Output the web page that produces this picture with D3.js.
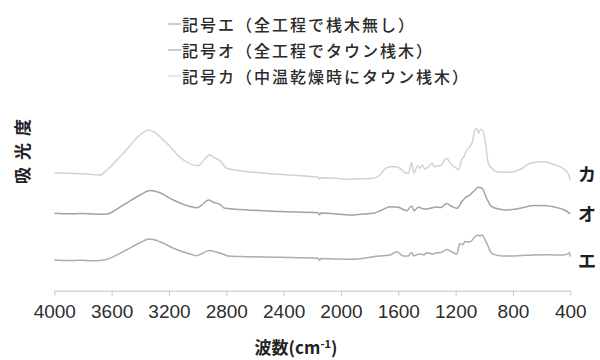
<!DOCTYPE html>
<html>
<head>
<meta charset="utf-8">
<script src="https://cdn.jsdelivr.net/npm/d3@7"></script>
<style>
  html, body { margin: 0; padding: 0; background: #fff; }
  svg { display: block; }
</style>
</head>
<body>
<svg id="chart" width="600" height="360"></svg>
<script>
// FT-IR spectra, stacked with a vertical offset (absorbance, arbitrary units)
const seriesNames = ["記号エ", "記号オ", "記号カ"];
const seriesNotes = ["（全工程で桟木無し）", "（全工程でタウン桟木）", "（中温乾燥時にタウン桟木）"];
const seriesTags = ["エ", "オ", "カ"];
const seriesColors = ["#adadad", "#a3a3a3", "#d2d2d2"];
const legendColors = ["#bdbdbd", "#bdbdbd", "#dedede"];
const xTicks = [4000, 3600, 3200, 2800, 2400, 2000, 1600, 1200, 800, 400];

// [wavenumber cm-1, absorbance]
const specE = [
  [4000,30.7],[3900,30.2],[3821,30.4],[3720,30.0],[3646,30.9],[3519,39.0],[3402,48.0],[3337,51.7],
  [3263,49.0],[3170,42.4],[3053,36.7],[3004,35.0],[2963,37.7],[2919,40.2],[2872,38.7],[2821,36.4],
  [2788,34.7],[2704,34.2],[2425,33.4],[2158,32.4],[2151,30.2],[2140,32.2],[2050,31.8],[1937,31.4],
  [1850,32.3],[1774,34.0],[1658,35.7],[1611,39.0],[1565,34.7],[1532,34.7],[1507,38.2],[1491,34.7],
  [1470,36.2],[1442,36.7],[1420,35.8],[1407,37.7],[1379,37.4],[1355,36.6],[1337,37.9],[1302,38.2],
  [1262,41.2],[1232,39.2],[1192,36.7],[1171,47.2],[1150,46.0],[1135,49.2],[1100,48.7],[1065,54.0],
  [1044,55.7],[1030,54.6],[1018,55.7],[983,47.4],[948,37.4],[890,35.0],[855,34.7],[760,35.0],
  [658,35.7],[560,35.9],[449,35.7],[411,37.4],[407,38.2],[400,34.0]
];
const specO = [
  [4000,77.4],[3900,76.9],[3821,77.1],[3720,76.6],[3646,76.4],[3519,85.7],[3402,95.7],[3332,100.2],
  [3263,98.0],[3170,90.7],[3053,84.2],[3004,82.9],[2963,86.7],[2926,90.7],[2886,88.2],[2844,86.4],
  [2809,82.4],[2704,81.2],[2425,79.2],[2158,78.0],[2151,75.7],[2140,77.7],[2050,77.0],[1937,75.7],
  [1850,76.6],[1774,77.4],[1714,80.7],[1658,84.0],[1600,83.4],[1541,80.0],[1507,84.7],[1491,80.0],
  [1460,83.4],[1420,81.7],[1379,82.4],[1337,83.7],[1302,83.2],[1262,87.2],[1232,84.7],[1192,82.4],
  [1157,89.0],[1135,92.7],[1100,95.7],[1065,100.7],[1041,103.4],[1018,102.7],[983,92.2],[948,84.0],
  [890,81.4],[855,80.7],[774,81.7],[704,84.0],[658,85.2],[564,85.0],[499,83.2],[449,81.2],
  [423,79.2],[400,76.7]
];
const specK = [
  [4000,118.0],[3900,117.4],[3800,116.9],[3681,115.7],[3634,120.7],[3519,137.4],[3402,155.7],[3344,160.7],
  [3309,159.0],[3216,147.4],[3100,130.7],[2995,125.0],[2956,130.7],[2919,135.7],[2879,132.7],[2844,130.0],
  [2797,122.4],[2704,120.0],[2425,116.4],[2158,113.4],[2151,111.4],[2140,112.9],[2007,112.2],[1984,111.4],
  [1869,111.9],[1774,112.4],[1728,115.7],[1700,120.7],[1658,124.0],[1611,124.0],[1574,120.7],[1553,118.0],
  [1530,117.4],[1507,128.0],[1491,117.4],[1467,124.7],[1451,122.7],[1432,125.7],[1416,121.7],[1397,123.0],
  [1379,125.7],[1363,127.4],[1346,123.7],[1328,125.0],[1312,124.7],[1293,126.7],[1277,130.7],[1262,132.4],
  [1243,128.7],[1227,125.7],[1192,122.4],[1180,120.7],[1157,131.4],[1140,134.7],[1122,140.7],[1100,144.0],
  [1084,148.7],[1065,160.7],[1053,162.2],[1041,157.4],[1030,160.7],[1018,161.4],[995,150.7],[972,127.4],
  [948,122.4],[913,119.0],[855,118.4],[820,118.4],[774,120.0],[751,121.2],[681,127.4],[658,128.0],
  [611,129.0],[564,128.7],[541,127.4],[472,124.0],[437,120.7],[414,116.7],[407,114.0],[400,110.5]
];
const spectra = [specE, specO, specK];

const svg = d3.select("#chart");
const x = d3.scaleLinear().domain([4000, 400]).range([54.3, 570.3]);
const y = d3.scaleLinear().domain([0, 180]).range([290.7, 110.7]);

// x axis
const xAxis = d3.axisBottom(x).tickValues(xTicks).tickSize(5).tickSizeOuter(0).tickPadding(9)
  .tickFormat(d3.format("d"));
const gx = svg.append("g").attr("transform", "translate(0,290.7)").call(xAxis);
gx.select(".domain").attr("stroke", "#c4c4c4").attr("stroke-width", 1);
gx.selectAll(".tick line").attr("stroke", "#c4c4c4");
gx.selectAll(".tick text")
  .attr("fill", "#2e2e2e")
  .style("font-family", "'Liberation Sans', Arial, sans-serif")
  .style("font-size", "19px");

// spectra
const line = d3.line().x(d => x(d[0])).y(d => y(d[1])).curve(d3.curveMonotoneX);
svg.append("g").selectAll("path").data(spectra).join("path")
  .attr("d", line)
  .attr("fill", "none")
  .attr("stroke", (d, i) => seriesColors[i])
  .attr("stroke-width", 1.5)
  .attr("stroke-linejoin", "round");

// series tags at the right end
svg.append("g").selectAll("text").data(spectra).join("text")
  .attr("x", 587)
  .attr("y", d => y(d[0][1]))
  .attr("text-anchor", "middle")
  .attr("dominant-baseline", "central")
  .attr("fill", "#1e1e1e")
  .style("font-family", "'Noto Sans CJK JP', sans-serif")
  .style("font-weight", 700)
  .style("font-size", "18px")
  .text((d, i) => seriesTags[i]);

// legend
const legendRows = [24, 50, 76];
const lg = svg.append("g");
seriesNames.forEach((name, i) => {
  lg.append("line")
    .attr("x1", 168).attr("x2", 181)
    .attr("y1", legendRows[i]).attr("y2", legendRows[i])
    .attr("stroke", legendColors[i]).attr("stroke-width", 1.5);
  lg.append("text")
    .attr("x", 182).attr("y", legendRows[i])
    .attr("dominant-baseline", "central")
    .attr("fill", "#2a2a2a")
    .style("font-family", "'Noto Sans CJK JP', sans-serif")
    .style("font-weight", 500)
    .style("font-size", "16px")
    .style("letter-spacing", "2px")
    .text(name + seriesNotes[i]);
});

// axis titles
svg.append("text")
  .attr("transform", "translate(21.5,148) rotate(-90)")
  .attr("text-anchor", "middle")
  .attr("dominant-baseline", "central")
  .attr("fill", "#222")
  .style("font-family", "'Noto Sans CJK JP', sans-serif")
  .style("font-weight", 700)
  .style("font-size", "17px")
  .style("letter-spacing", "7px")
  .text("吸光度");

const xt = svg.append("text")
  .attr("x", 296).attr("y", 354)
  .attr("text-anchor", "middle")
  .attr("fill", "#222")
  .style("font-family", "'Noto Sans CJK JP', sans-serif")
  .style("font-weight", 700)
  .style("font-size", "17px");
xt.append("tspan").text("波数(cm");
xt.append("tspan").attr("dy", -6).style("font-size", "11px").text("-1");
xt.append("tspan").attr("dy", 6).text(")");
</script>
</body>
</html>
